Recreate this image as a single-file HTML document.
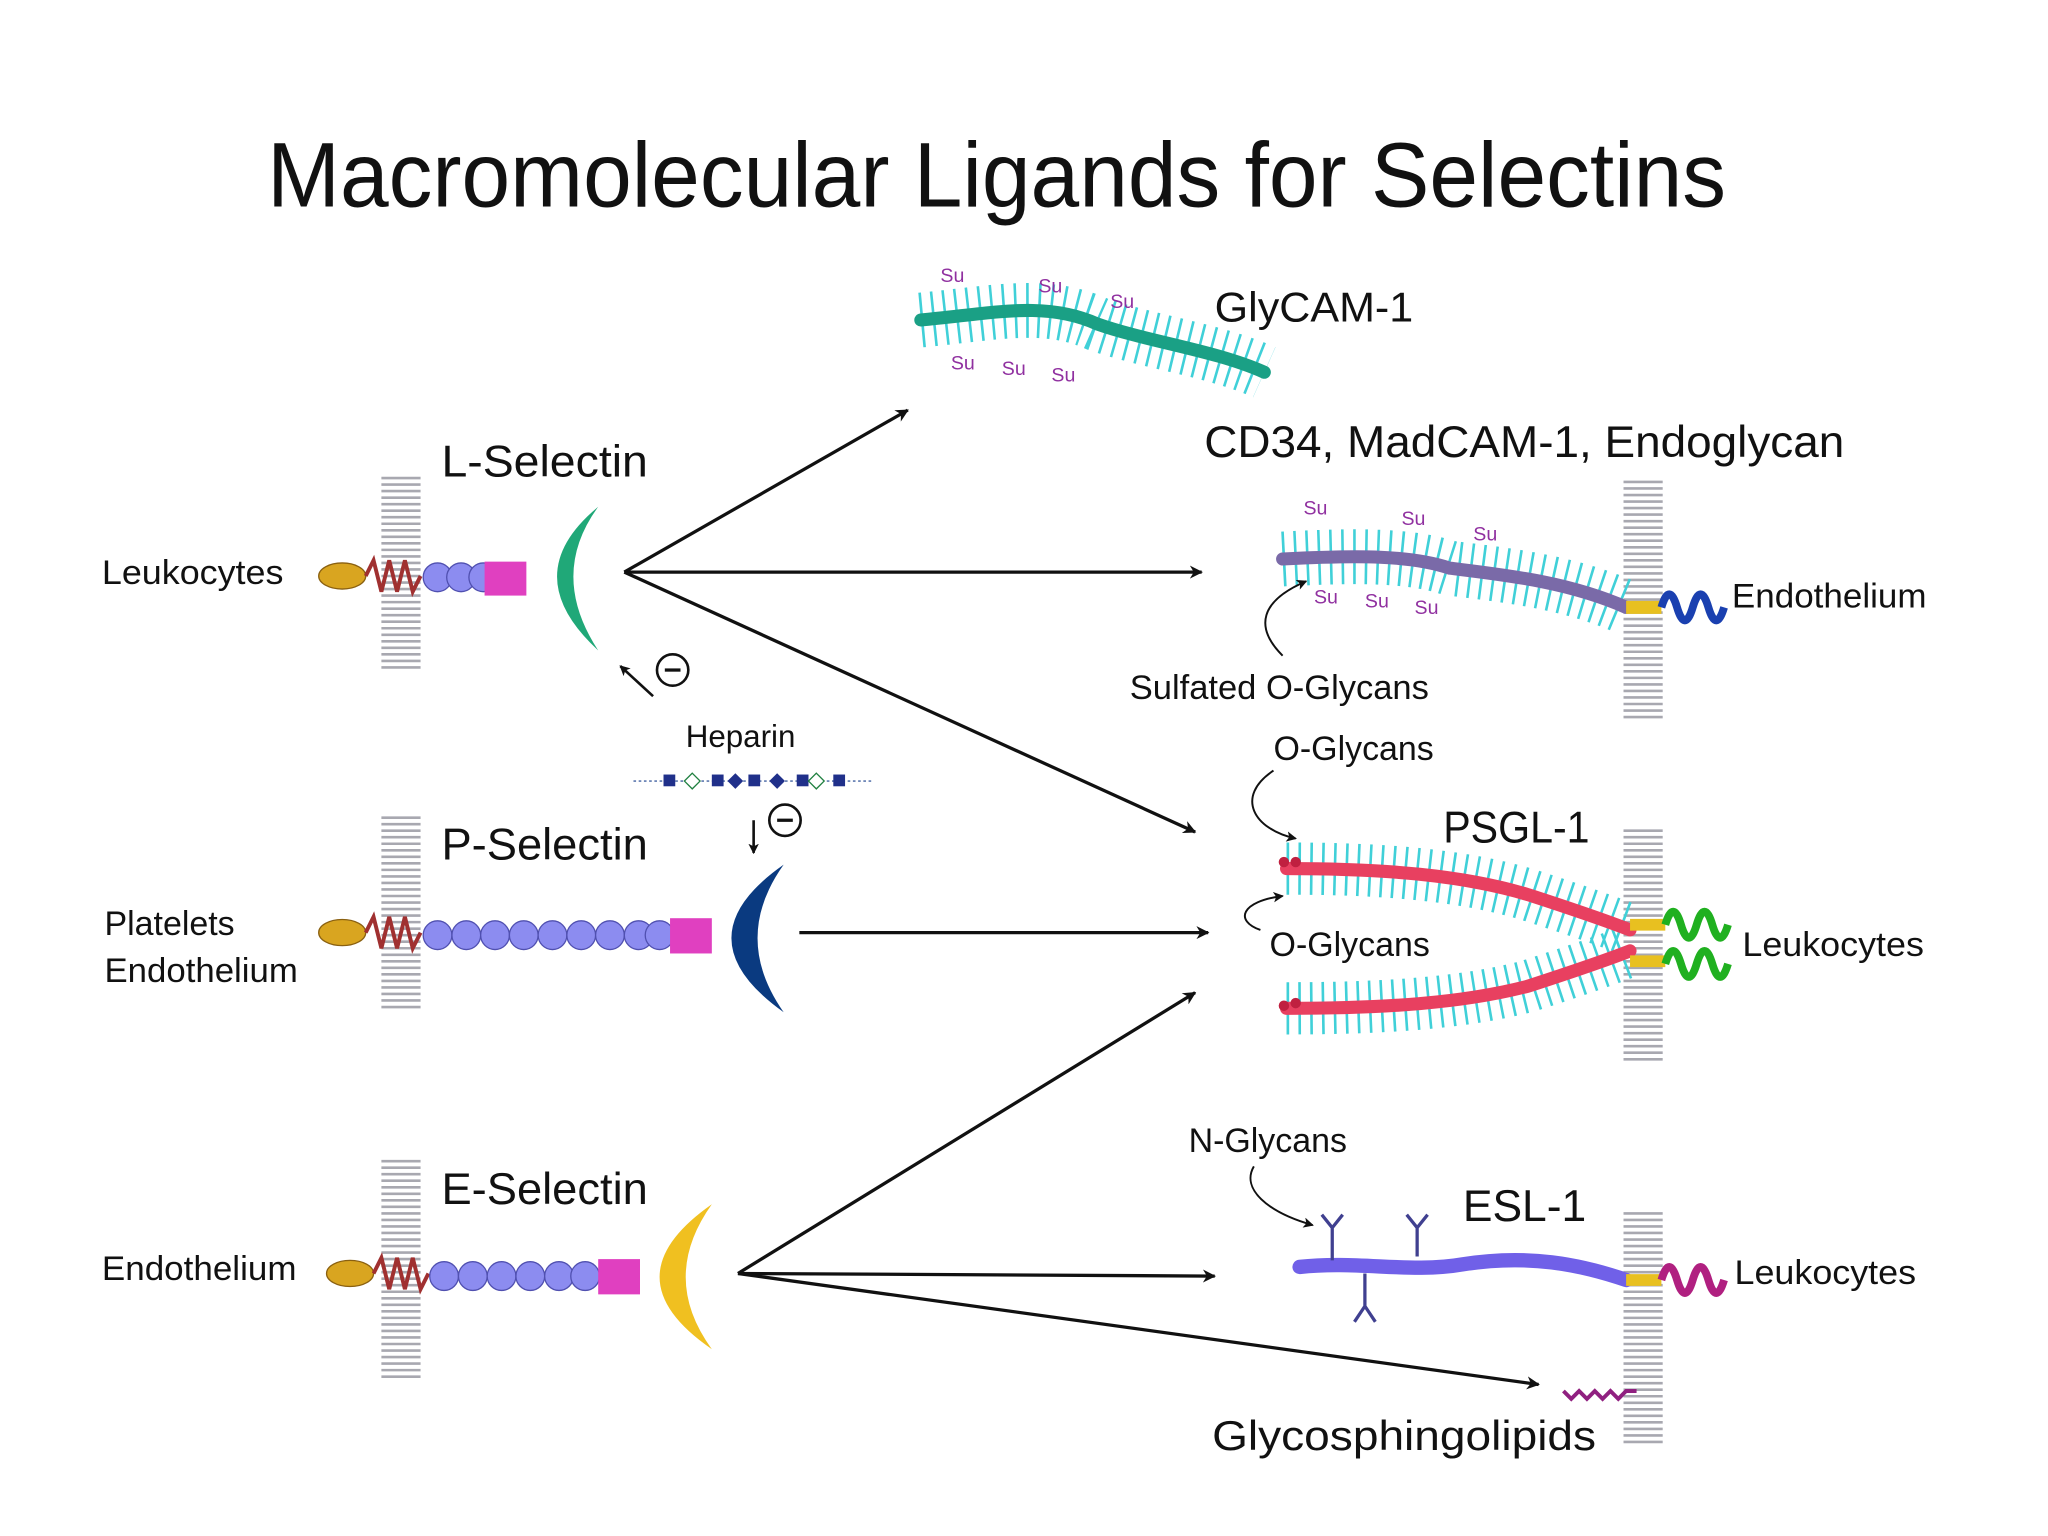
<!DOCTYPE html>
<html><head><meta charset="utf-8"><style>
html,body{margin:0;padding:0;background:#fff}
svg{display:block}
text{font-family:"Liberation Sans","DejaVu Sans",sans-serif;fill:#111}
</style></head><body>
<svg width="2048" height="1536" viewBox="0 0 1568 1176" xmlns="http://www.w3.org/2000/svg">
<defs>
<marker id="ah" markerWidth="10" markerHeight="10" refX="9" refY="5" orient="auto" markerUnits="userSpaceOnUse" viewBox="0 0 10 10">
<path d="M0,0 L10,5 L0,10 L3,5 z" fill="#111"/></marker>
<marker id="ahs" markerWidth="8" markerHeight="8" refX="7" refY="4" orient="auto" markerUnits="userSpaceOnUse" viewBox="0 0 8 8">
<path d="M0,0 L8,4 L0,8 L2,4 z" fill="#111"/></marker>
</defs>
<rect width="1568" height="1176" fill="#fff"/>
<text x="763" y="158" font-size="70" text-anchor="middle" textLength="1117" lengthAdjust="spacingAndGlyphs">Macromolecular Ligands for Selectins</text>

<g stroke="#a8a8b0" stroke-width="30" stroke-dasharray="2 3" fill="none">
<line x1="307" y1="365" x2="307" y2="512"/>
<line x1="307" y1="625" x2="307" y2="772"/>
<line x1="307" y1="888" x2="307" y2="1058"/>
<line x1="1258" y1="368" x2="1258" y2="552"/>
<line x1="1258" y1="635" x2="1258" y2="812"/>
<line x1="1258" y1="928" x2="1258" y2="1108"/>
</g>

<text x="78" y="447" font-size="26" textLength="139" lengthAdjust="spacingAndGlyphs">Leukocytes</text>
<text x="338" y="365" font-size="34" textLength="158" lengthAdjust="spacingAndGlyphs">L-Selectin</text>
<ellipse cx="262" cy="441" rx="18" ry="10" fill="#d9a520" stroke="#8a6010"/>
<path d="M280,441 l6,-12 l6,24 l6,-24 l6,24 l6,-24 l6,24 l6,-12" stroke="#a03030" stroke-width="3" fill="none"/>
<g fill="#8c8cf0" stroke="#5050b0"><circle cx="335" cy="442" r="11"/><circle cx="353" cy="442" r="11"/><circle cx="370" cy="442" r="11"/></g>
<rect x="371" y="430" width="32" height="26" fill="#e040c0"/>
<path d="M458,388 Q395,440 458,498 Q420,440 458,388z" fill="#20a878"/>

<text x="80" y="716" font-size="26">Platelets</text>
<text x="80" y="752" font-size="26" textLength="148" lengthAdjust="spacingAndGlyphs">Endothelium</text>
<text x="338" y="658" font-size="34" textLength="158" lengthAdjust="spacingAndGlyphs">P-Selectin</text>
<ellipse cx="262" cy="714" rx="18" ry="10" fill="#d9a520" stroke="#8a6010"/>
<path d="M280,714 l6,-12 l6,24 l6,-24 l6,24 l6,-24 l6,24 l6,-12" stroke="#a03030" stroke-width="3" fill="none"/>
<g fill="#8c8cf0" stroke="#5050b0">
<circle cx="335" cy="716" r="11"/><circle cx="357" cy="716" r="11"/><circle cx="379" cy="716" r="11"/><circle cx="401" cy="716" r="11"/><circle cx="423" cy="716" r="11"/><circle cx="445" cy="716" r="11"/><circle cx="467" cy="716" r="11"/><circle cx="489" cy="716" r="11"/><circle cx="505" cy="716" r="11"/></g>
<rect x="513" y="703" width="32" height="27" fill="#e040c0"/>
<path d="M600,662 Q520,718 600,775 Q560,718 600,662z" fill="#0a3a80"/>

<text x="78" y="980" font-size="26" textLength="149" lengthAdjust="spacingAndGlyphs">Endothelium</text>
<text x="338" y="922" font-size="34" textLength="158" lengthAdjust="spacingAndGlyphs">E-Selectin</text>
<ellipse cx="268" cy="975" rx="18" ry="10" fill="#d9a520" stroke="#8a6010"/>
<path d="M286,975 l6,-12 l6,24 l6,-24 l6,24 l6,-24 l6,24 l6,-12" stroke="#a03030" stroke-width="3" fill="none"/>
<g fill="#8c8cf0" stroke="#5050b0">
<circle cx="340" cy="977" r="11"/><circle cx="362" cy="977" r="11"/><circle cx="384" cy="977" r="11"/><circle cx="406" cy="977" r="11"/><circle cx="428" cy="977" r="11"/><circle cx="448" cy="977" r="11"/></g>
<rect x="458" y="964" width="32" height="27" fill="#e040c0"/>
<path d="M545,922 Q465,978 545,1033 Q505,978 545,922z" fill="#f0c020"/>

<g stroke="#111" stroke-width="2.5" fill="none" marker-end="url(#ah)">
<line x1="478" y1="438" x2="695" y2="314"/>
<line x1="478" y1="438" x2="920" y2="438"/>
<line x1="478" y1="438" x2="915" y2="637"/>
<line x1="612" y1="714" x2="925" y2="714"/>
<line x1="565" y1="975" x2="915" y2="760"/>
<line x1="565" y1="975" x2="930" y2="977"/>
<line x1="565" y1="975" x2="1178" y2="1060"/>
</g>

<text x="525" y="572" font-size="24">Heparin</text>
<line x1="485" y1="598" x2="667" y2="598" stroke="#4060a0" stroke-width="1" stroke-dasharray="2 2"/>
<g fill="#20308a"><rect x="508" y="593" width="9" height="9"/><rect x="545" y="593" width="9" height="9"/><rect x="573" y="593" width="9" height="9"/><rect x="610" y="593" width="9" height="9"/><rect x="638" y="593" width="9" height="9"/></g>
<g fill="#fff" stroke="#208040"><path d="M530,592 l6,6 l-6,6 l-6,-6z"/><path d="M625,592 l6,6 l-6,6 l-6,-6z"/></g>
<g fill="#20308a"><path d="M563,592 l6,6 l-6,6 l-6,-6z"/><path d="M595,592 l6,6 l-6,6 l-6,-6z"/></g>
<g stroke="#111" stroke-width="2" fill="none" marker-end="url(#ahs)">
<line x1="500" y1="533" x2="475" y2="510"/><line x1="577" y1="628" x2="577" y2="653"/></g>
<circle cx="515" cy="513" r="12" fill="#fff" stroke="#111" stroke-width="2"/><line x1="509" y1="513" x2="521" y2="513" stroke="#111" stroke-width="2.5"/>
<circle cx="601" cy="628" r="12" fill="#fff" stroke="#111" stroke-width="2"/><line x1="595" y1="628" x2="607" y2="628" stroke="#111" stroke-width="2.5"/>

<path d="M705,245 C760,240 800,230 840,248 C880,262 930,268 968,285" stroke="#40d0d8" stroke-width="42" stroke-dasharray="2 7" fill="none"/>
<path d="M705,245 C760,240 800,230 840,248 C880,262 930,268 968,285" stroke="#1aa085" stroke-width="10" stroke-linecap="round" fill="none"/>
<g font-size="15">
<text x="720" y="216" style="fill:#9030a0">Su</text><text x="795" y="224" style="fill:#9030a0">Su</text><text x="850" y="236" style="fill:#9030a0">Su</text>
<text x="728" y="283" style="fill:#9030a0">Su</text><text x="767" y="287" style="fill:#9030a0">Su</text><text x="805" y="292" style="fill:#9030a0">Su</text></g>
<text x="930" y="246" font-size="32" textLength="152" lengthAdjust="spacingAndGlyphs">GlyCAM-1</text>

<text x="922" y="350" font-size="34" textLength="490" lengthAdjust="spacingAndGlyphs">CD34, MadCAM-1, Endoglycan</text>
<path d="M982,428 C1040,425 1080,425 1110,435 C1150,440 1200,445 1245,465" stroke="#40d0d8" stroke-width="42" stroke-dasharray="2 7" fill="none"/>
<path d="M982,428 C1040,425 1080,425 1110,435 C1150,440 1200,445 1245,465" stroke="#7a6aa8" stroke-width="10" stroke-linecap="round" fill="none"/>
<line x1="1245" y1="465" x2="1272" y2="465" stroke="#e8c020" stroke-width="10"/>
<path d="M1272,465 q6,-20 12,0 t12,0 t12,0 t12,0" stroke="#1a40b0" stroke-width="6" fill="none"/>
<text x="1326" y="465" font-size="26" textLength="149" lengthAdjust="spacingAndGlyphs">Endothelium</text>
<g font-size="15"><text x="998" y="394" style="fill:#9030a0">Su</text><text x="1073" y="402" style="fill:#9030a0">Su</text><text x="1128" y="414" style="fill:#9030a0">Su</text>
<text x="1006" y="462" style="fill:#9030a0">Su</text><text x="1045" y="465" style="fill:#9030a0">Su</text><text x="1083" y="470" style="fill:#9030a0">Su</text></g>
<text x="865" y="535" font-size="26" textLength="229" lengthAdjust="spacingAndGlyphs">Sulfated O-Glycans</text>
<path d="M982,502 C960,480 965,460 1000,445" stroke="#111" stroke-width="1.5" fill="none" marker-end="url(#ahs)"/>

<text x="975" y="582" font-size="26">O-Glycans</text>
<path d="M975,590 C945,610 960,635 992,642" stroke="#111" stroke-width="1.5" fill="none" marker-end="url(#ahs)"/>
<text x="1105" y="645" font-size="34" textLength="112" lengthAdjust="spacingAndGlyphs">PSGL-1</text>
<g stroke="#40d0d8" stroke-width="40" stroke-dasharray="2 7" fill="none">
<path d="M985,665 C1060,665 1120,670 1170,685 C1210,698 1230,705 1248,712"/>
<path d="M985,772 C1060,772 1120,768 1170,755 C1210,742 1230,735 1248,728"/></g>
<g stroke="#e84060" stroke-width="10" stroke-linecap="round" fill="none">
<path d="M985,665 C1060,665 1120,670 1170,685 C1210,698 1230,705 1248,712"/>
<path d="M985,772 C1060,772 1120,768 1170,755 C1210,742 1230,735 1248,728"/></g>
<g fill="#c02040"><circle cx="983" cy="660" r="4"/><circle cx="992" cy="660" r="4"/><circle cx="983" cy="770" r="4"/><circle cx="992" cy="768" r="4"/></g>
<rect x="938" y="712" width="165" height="30" fill="#fff"/>
<text x="972" y="732" font-size="26">O-Glycans</text>
<path d="M965,712 C945,705 950,690 982,686" stroke="#111" stroke-width="1.5" fill="none" marker-end="url(#ahs)"/>
<g stroke="#e8c020" stroke-width="9"><line x1="1248" y1="708" x2="1275" y2="708"/><line x1="1248" y1="736" x2="1275" y2="736"/></g>
<g stroke="#20b020" stroke-width="6" fill="none">
<path d="M1275,708 q6,-20 12,0 t12,0 t12,0 t12,0"/><path d="M1275,738 q6,-20 12,0 t12,0 t12,0 t12,0"/></g>
<text x="1334" y="732" font-size="26" textLength="139" lengthAdjust="spacingAndGlyphs">Leukocytes</text>

<text x="910" y="882" font-size="26">N-Glycans</text>
<path d="M960,893 C950,910 970,928 1005,938" stroke="#111" stroke-width="1.5" fill="none" marker-end="url(#ahs)"/>
<text x="1120" y="935" font-size="34">ESL-1</text>
<path d="M995,970 C1040,965 1080,975 1120,968 C1170,960 1210,968 1245,980" stroke="#7060e8" stroke-width="11" stroke-linecap="round" fill="none"/>
<g stroke="#404090" stroke-width="2.5" fill="none">
<path d="M1020,965 v-25 l-8,-10 M1020,940 l8,-10"/>
<path d="M1085,962 v-22 l-8,-10 M1085,940 l8,-10"/>
<path d="M1045,975 v25 l-8,12 M1045,1000 l8,12"/></g>
<line x1="1245" y1="980" x2="1272" y2="980" stroke="#e8c020" stroke-width="9"/>
<path d="M1272,980 q6,-20 12,0 t12,0 t12,0 t12,0" stroke="#b02080" stroke-width="6" fill="none"/>
<text x="1328" y="983" font-size="26" textLength="139" lengthAdjust="spacingAndGlyphs">Leukocytes</text>

<path d="M1197,1065 l6,6 l6,-6 l6,6 l6,-6 l6,6 l6,-6 l6,6 l6,-6 l8,0" stroke="#902080" stroke-width="3" fill="none"/>
<text x="928" y="1110" font-size="32" textLength="294" lengthAdjust="spacingAndGlyphs">Glycosphingolipids</text>
</svg>
</body></html>
